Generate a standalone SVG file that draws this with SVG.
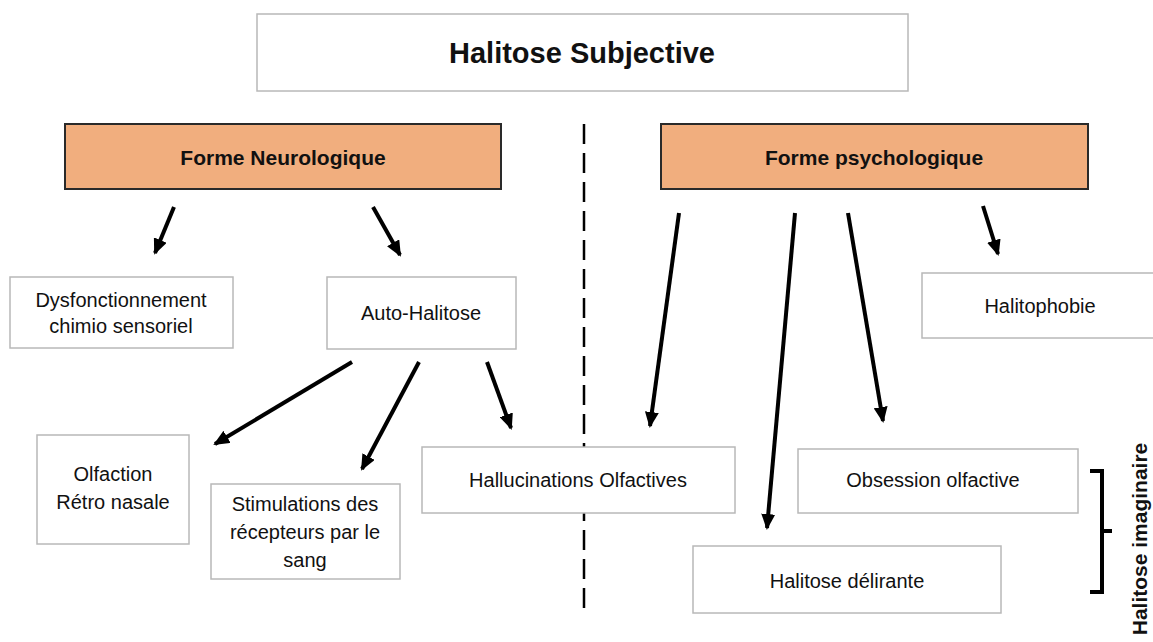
<svg xmlns="http://www.w3.org/2000/svg" width="1153" height="642" viewBox="0 0 1153 642">
<defs>
<marker id="ah" viewBox="0 0 16 14" refX="14" refY="7" markerWidth="16" markerHeight="14" markerUnits="userSpaceOnUse" orient="auto">
<path d="M0,0 L16,7 L0,14 Z" fill="#000"/>
</marker>
</defs>
<style>
.box{fill:#fff;stroke:#b8b8b8;stroke-width:1.5}
.hd{fill:#F1AE7E;stroke:#2a2a2a;stroke-width:2}
.t{font-family:"Liberation Sans",Arial,sans-serif;font-size:20px;fill:#111;text-anchor:middle}
.b{font-weight:bold}
.arr{stroke:#000;stroke-width:4;fill:none;marker-end:url(#ah)}
</style>
<rect width="1153" height="642" fill="#fff"/>
<g id="connectors">
<line x1="584" y1="124" x2="584" y2="610" stroke="#000" stroke-width="2.5" stroke-dasharray="20,9"/>
<line class="arr" x1="174" y1="207" x2="155" y2="253"/>
<line class="arr" x1="373" y1="207" x2="400" y2="255"/>
<line class="arr" x1="352" y1="362" x2="215" y2="444"/>
<line class="arr" x1="419" y1="362" x2="362" y2="469"/>
<line class="arr" x1="487" y1="362" x2="511" y2="428"/>
<line class="arr" x1="679" y1="213" x2="650" y2="426"/>
<line class="arr" x1="795" y1="213" x2="767" y2="528"/>
<line class="arr" x1="848" y1="213" x2="883" y2="421"/>
<line class="arr" x1="983" y1="206" x2="998" y2="254"/>
</g>
<g id="title"><rect class="box" x="257" y="14" width="651" height="77"/><text class="t b" x="582" y="63" style="font-size:29px">Halitose Subjective</text></g>
<g id="neuro"><rect class="hd" x="65" y="124" width="436" height="65"/><text class="t b" x="283" y="165" style="font-size:21px">Forme Neurologique</text></g>
<g id="psycho"><rect class="hd" x="661" y="124" width="427" height="65"/><text class="t b" x="874" y="165" style="font-size:21px">Forme psychologique</text></g>
<g id="dysf"><rect class="box" x="10" y="277" width="223" height="71"/><text class="t" x="121" y="307">Dysfonctionnement</text><text class="t" x="121" y="333">chimio sensoriel</text></g>
<g id="auto"><rect class="box" x="327" y="277" width="189" height="72"/><text class="t" x="421" y="320">Auto-Halitose</text></g>
<g id="phobie"><rect class="box" x="922" y="273" width="240" height="65"/><text class="t" x="1040" y="313">Halitophobie</text></g>
<g id="olf"><rect class="box" x="37" y="435" width="152" height="109"/><text class="t" x="113" y="481">Olfaction</text><text class="t" x="113" y="509">Rétro nasale</text></g>
<g id="stim"><rect class="box" x="211" y="484" width="189" height="95"/><text class="t" x="305" y="511">Stimulations des</text><text class="t" x="305" y="539">récepteurs par le</text><text class="t" x="305" y="567">sang</text></g>
<g id="hallu"><rect class="box" x="422" y="447" width="313" height="66"/><text class="t" x="578" y="487">Hallucinations Olfactives</text></g>
<g id="obs"><rect class="box" x="798" y="449" width="280" height="64"/><text class="t" x="933" y="487">Obsession olfactive</text></g>
<g id="deli"><rect class="box" x="693" y="546" width="308" height="67"/><text class="t" x="847" y="588">Halitose délirante</text></g>
<g id="imaginaire"><path d="M1090,471 L1102,471 L1102,531 L1112,531 M1102,531 L1102,592 L1090,592" fill="none" stroke="#000" stroke-width="4"/><text class="t b" transform="translate(1147,539) rotate(-90)" style="font-size:21px">Halitose imaginaire</text></g>
</svg>
